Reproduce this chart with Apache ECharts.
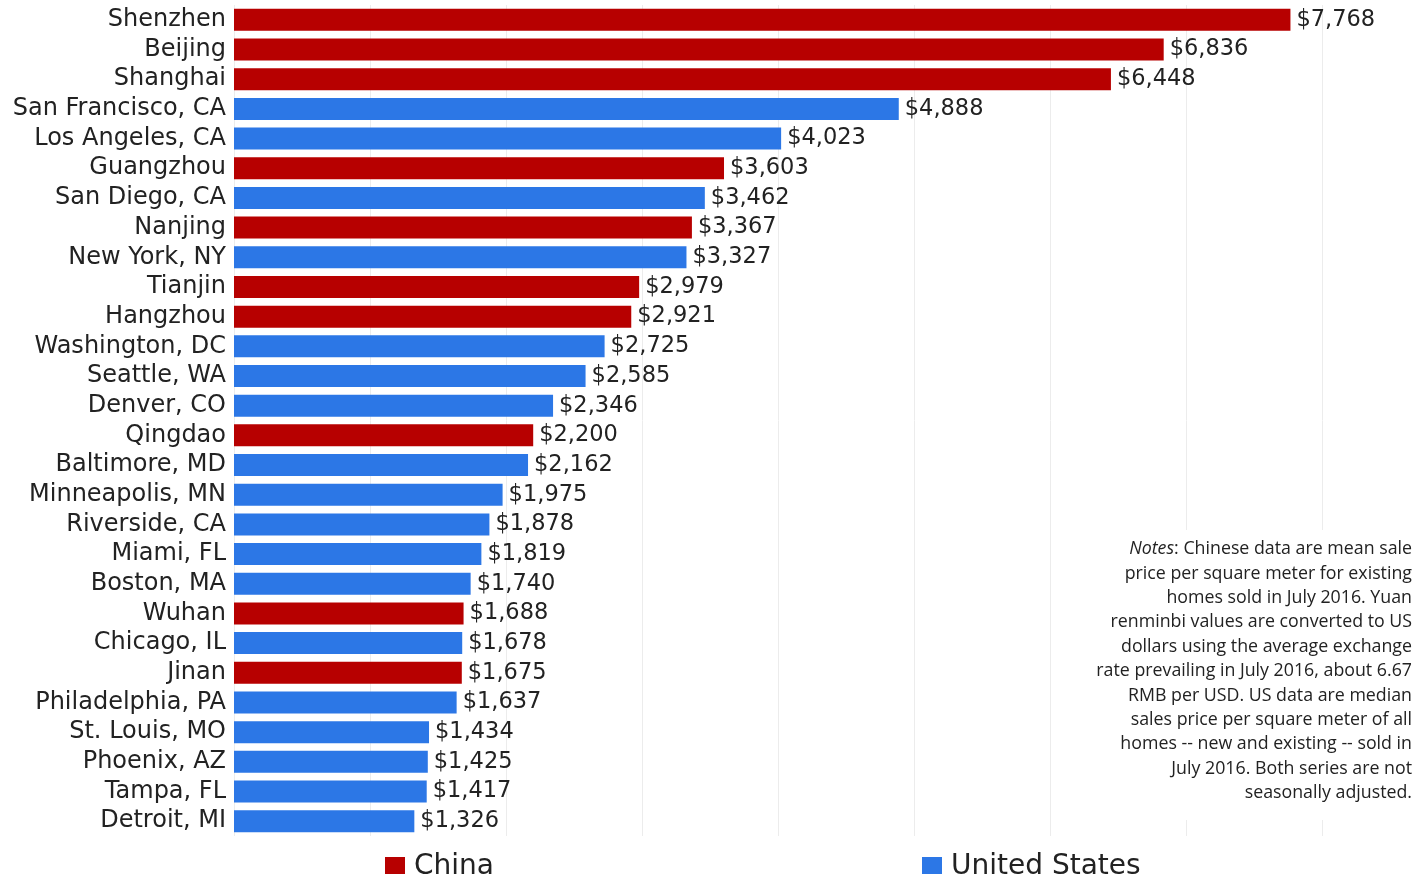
<!DOCTYPE html>
<html>
<head>
<meta charset="utf-8">
<script src="https://cdn.jsdelivr.net/npm/echarts@6/dist/echarts.min.js"></script>
<style>html,body{margin:0;padding:0;background:#fff}#c{width:1428px;height:874px}</style>
</head>
<body>
<div id="c"></div>
<script>
const cities = ["Shenzhen","Beijing","Shanghai","San Francisco, CA","Los Angeles, CA","Guangzhou","San Diego, CA","Nanjing","New York, NY","Tianjin","Hangzhou","Washington, DC","Seattle, WA","Denver, CO","Qingdao","Baltimore, MD","Minneapolis, MN","Riverside, CA","Miami, FL","Boston, MA","Wuhan","Chicago, IL","Jinan","Philadelphia, PA","St. Louis, MO","Phoenix, AZ","Tampa, FL","Detroit, MI"];
const prices = [7768,6836,6448,4888,4023,3603,3462,3367,3327,2979,2921,2725,2585,2346,2200,2162,1975,1878,1819,1740,1688,1678,1675,1637,1434,1425,1417,1326];
const country = ["China","China","China","United States","United States","China","United States","China","United States","China","China","United States","United States","United States","China","United States","United States","United States","United States","United States","China","United States","China","United States","United States","United States","United States","United States"];
const seriesNames = ["China","United States"];
const colors = {"China":"#b70000","United States":"#2c77e6"};
const noteLines = ["Chinese data are mean sale","price per square meter for existing","homes sold in July 2016. Yuan","renminbi values are converted to US","dollars using the average exchange","rate prevailing in July 2016, about 6.67","RMB per USD. US data are median","sales price per square meter of all","homes -- new and existing -- sold in","July 2016. Both series are not","seasonally adjusted."];

const FONT = "DejaVu Sans";
const NFONT = "Open Sans";
const fmt = v => '$' + v.toLocaleString('en-US');

const noteText = noteLines.map((l, i) => i === 0 ? '{i|Notes}{n|: ' + l + '}' : '{n|' + l + '}').join('\n');

const chart = echarts.init(document.getElementById('c'));
chart.setOption({
  animation: false,
  textStyle: {fontFamily: FONT},
  grid: {left: 234, right: 106, top: 5, bottom: 38, containLabel: false},
  xAxis: {
    type: 'value', min: 0, max: 8000, interval: 1000,
    axisLabel: {show: false}, axisLine: {show: false}, axisTick: {show: false},
    splitLine: {show: true, lineStyle: {color: '#ececec', width: 1}}
  },
  yAxis: {
    type: 'category', data: cities, inverse: true,
    axisLine: {show: false}, axisTick: {show: false},
    axisLabel: {fontSize: 24, color: '#222', margin: 8, fontFamily: FONT, interval: 0}
  },
  legend: [
    {data: ['China'], left: 385, top: 853, padding: 0, itemWidth: 20, itemHeight: 20, icon: 'rect',
     textStyle: {fontSize: 28, color: '#222', padding: [0,0,0,4], lineHeight: 20}},
    {data: ['United States'], left: 922, top: 853, padding: 0, itemWidth: 20, itemHeight: 20, icon: 'rect',
     textStyle: {fontSize: 28, color: '#222', padding: [0,0,0,4], lineHeight: 20}}
  ],
  series: seriesNames.map(name => ({
    name: name, type: 'bar', barWidth: 22, barGap: '-100%',
    itemStyle: {color: colors[name]},
    label: {show: true, position: 'right', distance: 6, fontSize: 22.5, color: '#222',
            fontFamily: FONT, formatter: p => fmt(p.value)},
    data: prices.map((v, i) => country[i] === name ? v : '-')
  })),
  graphic: [{
    type: 'rect', shape: {x: 1088, y: 530, width: 340, height: 290},
    style: {fill: '#fff'}, z: 10
  }, {
    type: 'text', x: 1412, y: 537, z: 11,
    style: {
      text: noteText, align: 'right', fill: '#222', fontSize: 17.8, lineHeight: 24.4,
      fontFamily: NFONT,
      rich: {
        i: {fontStyle: 'italic', fontSize: 17.8, fontFamily: NFONT, fill: '#222', align: 'right', lineHeight: 24.4},
        n: {fontSize: 17.8, fontFamily: NFONT, fill: '#222', align: 'right', lineHeight: 24.4}
      }
    }
  }]
});
</script>
</body>
</html>
